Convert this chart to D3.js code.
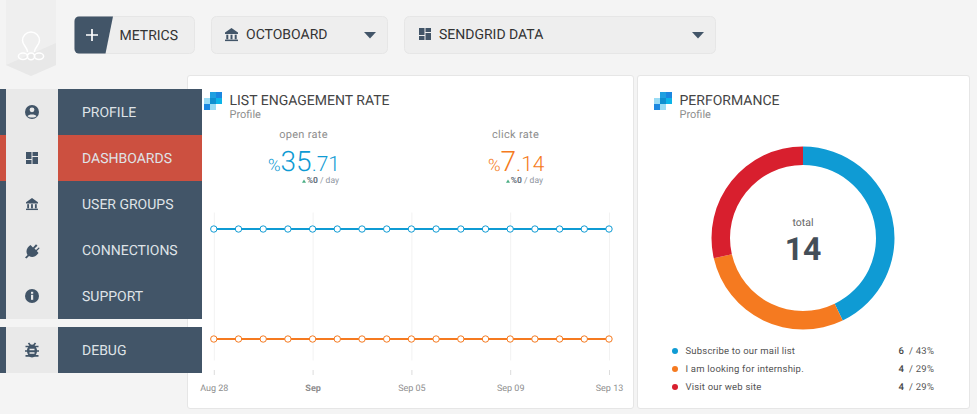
<!DOCTYPE html>
<html><head><meta charset="utf-8">
<script src="https://cdnjs.cloudflare.com/ajax/libs/d3/7.8.5/d3.min.js"></script>
<style>
html,body{margin:0;padding:0;background:#f4f4f4;overflow:hidden}
svg{display:block}
text{font-family:Roboto,sans-serif;text-rendering:geometricPrecision}
</style></head><body>
<svg id="c" width="977" height="414"></svg>
<script>
const dates = ["2023-08-28","2023-08-29","2023-08-30","2023-08-31","2023-09-01","2023-09-02","2023-09-03","2023-09-04","2023-09-05","2023-09-06","2023-09-07","2023-09-08","2023-09-09","2023-09-10","2023-09-11","2023-09-12","2023-09-13"];
const openRate = [35.71,35.71,35.71,35.71,35.71,35.71,35.71,35.71,35.71,35.71,35.71,35.71,35.71,35.71,35.71,35.71,35.71];
const clickRate = [7.14,7.14,7.14,7.14,7.14,7.14,7.14,7.14,7.14,7.14,7.14,7.14,7.14,7.14,7.14,7.14,7.14];
const tickDates = ["2023-08-28","2023-09-01","2023-09-05","2023-09-09","2023-09-13"];
const tickLabels = ["Aug 28","Sep","Sep 05","Sep 09","Sep 13"];
const legendLabels = ["Subscribe to our mail list","I am looking for internship.","Visit our web site"];
const legendValues = [6,4,4];
const legendPercents = ["43%","29%","29%"];
const menuLabels = ["PROFILE","DASHBOARDS","USER GROUPS","CONNECTIONS","SUPPORT"];

const BLUE="#0f9bd4",ORANGE="#f57a20",RED="#d81f2e",NAVY="#425568";
const svg=d3.select("#c");
const T=(g,x,y,s,size,fill,opt={})=>g.append("text").attr("x",x).attr("y",y).text(s)
  .attr("font-size",size).attr("fill",fill).attr("text-anchor",opt.a||"start")
  .attr("font-weight",opt.w||400).attr("letter-spacing",opt.ls||null);

/* logo */
const logo=svg.append("g");
logo.append("path").attr("d","M6 0H56V65L31 76L6 65Z").attr("fill","#efefef");
logo.append("path").attr("d","M6 65L56 43V65L31 76Z").attr("fill","#e8e8e8");
logo.append("g").attr("fill","none").attr("stroke","#fff").attr("stroke-width",1.5).call(g=>{
  g.append("path").attr("d","M27.5 52C27.5 47 22.5 45.5 22.5 40.5A8.5 8.5 0 0 1 39.5 40.5C39.5 45.5 34.5 47 34.5 52");
  g.append("ellipse").attr("cx",23).attr("cy",56.3).attr("rx",4.6).attr("ry",3.2);
  g.append("ellipse").attr("cx",39).attr("cy",56.3).attr("rx",4.6).attr("ry",3.2);
  g.append("ellipse").attr("cx",31).attr("cy",56.3).attr("rx",3.6).attr("ry",3.4);
});

/* top buttons */
const topBar=svg.append("g");
const btn=(x,y,w,h)=>topBar.append("rect").attr("x",x+.5).attr("y",y+.5).attr("width",w-1).attr("height",h-1).attr("rx",5).attr("fill","#eeeeee").attr("stroke","#e6e6e6");
btn(74,16,121,38);
topBar.append("path").attr("d","M79 16.5H113L105.5 53.5H79A4.5 4.5 0 0 1 74.5 49V21A4.5 4.5 0 0 1 79 16.5Z").attr("fill",NAVY);
topBar.append("path").attr("d","M92 29V41M86 35H98").attr("stroke","#fff").attr("stroke-width",1.7);
T(topBar,119.5,40,"METRICS",14,"#333");
btn(211,16,177,38);
const bank=(g,x,y,c,s=1)=>{const b=g.append("g").attr("transform",`translate(${x},${y}) scale(${s})`).attr("fill",c);
  b.append("path").attr("d","M0 4.5L6.5 0L13 4.5V6H0Z");
  b.append("rect").attr("x",1.3).attr("y",6.7).attr("width",2).attr("height",4.6);
  b.append("rect").attr("x",5.5).attr("y",6.7).attr("width",2).attr("height",4.6);
  b.append("rect").attr("x",9.7).attr("y",6.7).attr("width",2).attr("height",4.6);
  b.append("rect").attr("x",0).attr("y",11.6).attr("width",13).attr("height",1.5);};
bank(topBar,225,28,NAVY);
T(topBar,246,39.3,"OCTOBOARD",14,"#333");
topBar.append("path").attr("d","M364 32H376L370 38.5Z").attr("fill",NAVY);
btn(404,16,312,38);
const dash=(g,x,y,c)=>{const d=g.append("g").attr("transform",`translate(${x},${y})`).attr("fill",c);
  d.append("rect").attr("width",5.5).attr("height",7);d.append("rect").attr("y",8).attr("width",5.5).attr("height",4);
  d.append("rect").attr("x",6.5).attr("width",5.5).attr("height",4);d.append("rect").attr("x",6.5).attr("y",5).attr("width",5.5).attr("height",7);};
dash(topBar,419,28,NAVY);
T(topBar,439,39.3,"SENDGRID DATA",14,"#333");
topBar.append("path").attr("d","M692 32H704L698 38.5Z").attr("fill",NAVY);

/* cards */
const card=(x,y,w,h)=>svg.append("rect").attr("x",x+.5).attr("y",y+.5).attr("width",w).attr("height",h).attr("rx",2.5).attr("fill","#fff").attr("stroke","#e6e6e6");
card(187,75,446,333);
card(637,75,332,333);

/* sidebar */
const side=svg.append("g");
const rowY=d3.scaleBand().domain(menuLabels).range([89,319]);
menuLabels.forEach((m,i)=>{const y=rowY(m),c=i==1?"#cc5040":NAVY;
  side.append("rect").attr("x",0).attr("y",y).attr("width",6).attr("height",46).attr("fill",c);
  side.append("rect").attr("x",6).attr("y",y).attr("width",52).attr("height",46).attr("fill","#e9e9e9");
  side.append("rect").attr("x",58).attr("y",y).attr("width",144).attr("height",46).attr("fill",c);
  T(side,82,y+28,m,14,"#dfe3e7");
});
side.append("rect").attr("x",0).attr("y",327).attr("width",6).attr("height",46).attr("fill",NAVY);
side.append("rect").attr("x",6).attr("y",327).attr("width",52).attr("height",46).attr("fill","#e9e9e9");
side.append("rect").attr("x",58).attr("y",327).attr("width",144).attr("height",46).attr("fill",NAVY);
T(side,82,355,"DEBUG",14,"#dfe3e7");
/* sidebar icons */
side.append("circle").attr("cx",32).attr("cy",112).attr("r",7).attr("fill",NAVY);
side.append("circle").attr("cx",32).attr("cy",109.8).attr("r",2.4).attr("fill","#e9e9e9");
side.append("path").attr("d","M27.5 116.2C28.5 113.8 35.5 113.8 36.5 116.2C35 118 29 118 27.5 116.2Z").attr("fill","#e9e9e9");
dash(side,26,152,NAVY);
bank(side,26,198,NAVY,.92);
side.append("path").attr("d","M25 257.5L27.5 255C25 250.5 27.5 247 30.5 245L33 247.5L36 244.3L37.5 245.8L34.5 248.5L36 250L39 247.2L39.5 248.5L36.8 251L38.5 253C36 256.5 32.5 258 29 256L26.5 258.5Z").attr("fill",NAVY);
side.append("circle").attr("cx",32).attr("cy",296).attr("r",7).attr("fill",NAVY);
side.append("rect").attr("x",31).attr("y",294.8).attr("width",2.2).attr("height",5).attr("fill","#e9e9e9");
side.append("rect").attr("x",31).attr("y",291.8).attr("width",2.2).attr("height",2).attr("fill","#e9e9e9");
side.append("ellipse").attr("cx",32).attr("cy",351).attr("rx",5).attr("ry",6.5).attr("fill",NAVY);
side.append("path").attr("d","M25.5 346.5H38.5M25 351H39M25.5 355.8H38.5M28.5 343L30.5 345.5M35.5 343L33.5 345.5").attr("stroke",NAVY).attr("stroke-width",1.7);
side.append("path").attr("d","M29.5 349.5H34.5M29.5 353H34.5").attr("stroke","#e9e9e9").attr("stroke-width",1.4);

/* header logos */
const sq=(x,y)=>{const g=svg.append("g").attr("transform",`translate(${x},${y})`);
  [[6,0,"#1fa0e0"],[12,0,"#1b87e0"],[6,6,"#0f8fd0"],[12,6,"#0cb4e8"],[0,6,"#9adcf5"],[0,12,"#1b87e0"],[6,12,"#9adcf5"]]
  .forEach(d=>g.append("rect").attr("x",d[0]).attr("y",d[1]).attr("width",6).attr("height",6).attr("fill",d[2]));};
sq(204,92); sq(654,92);
T(svg,229.5,105,"LIST ENGAGEMENT RATE",14,"#444");
T(svg,229.5,118,"Profile",11,"#8e8e8e");
T(svg,679.5,105,"PERFORMANCE",14,"#444");
T(svg,679.5,118,"Profile",11,"#8e8e8e");

/* KPIs */
const kpi=(cx,label,x0,big,small,c,ax)=>{
  T(svg,cx,138,label,11,"#8e8e8e",{a:"middle",ls:.3});
  let cur=x0;
  [["%",17],[big,28],[small,21]].forEach(([s,fs])=>{
    const t=T(svg,cur,171,s,fs,c,{w:300});
    cur+=t.node().getComputedTextLength();
  });
  svg.append("path").attr("d",`M${ax} 182.7L${ax+2} 179.5L${ax+4} 182.7Z`).attr("fill","#4cae84");
  const s=svg.append("text").attr("x",ax+4.7).attr("y",183).attr("font-size",8.5).attr("fill","#8e96a0");
  s.append("tspan").attr("font-weight",700).attr("fill","#66717d").text("%0");
  s.append("tspan").text(" / day");
};
kpi(303.5,"open rate",268,"35",".71",BLUE,302);
kpi(515.5,"click rate",488,"7",".14",ORANGE,506);

/* line chart */
const parse=d3.utcParse("%Y-%m-%d");
const x=d3.scaleUtc().domain([parse(dates[0]),parse(dates[dates.length-1])]).range([213.8,609]);
const y=d3.scaleLinear().domain([0,40]).range([366.5,212.5]);
const ticks=tickDates.map(parse);
const ax=svg.append("g").attr("transform","translate(0,375)")
  .call(d3.axisBottom(x).tickValues(ticks).tickSize(6).tickPadding(5).tickFormat((d,i)=>tickLabels[i]));
ax.select(".domain").remove();
ax.selectAll("line").attr("y1",-5).attr("y2",0).attr("stroke","#dcdcdc");
ax.selectAll("text").attr("font-size",9).attr("fill","#8e8e8e").attr("font-family","Roboto,sans-serif")
  .attr("font-weight",(d,i)=>i==1?700:400).attr("y",10);
svg.append("g").selectAll("line").data(ticks).join("line")
  .attr("x1",d=>x(d)+.5).attr("x2",d=>x(d)+.5).attr("y1",y(40)).attr("y2",y(0)-6).attr("stroke","#f2f2f2");
[[openRate,BLUE],[clickRate,ORANGE]].forEach(([vals,c])=>{
  const pts=dates.map((d,i)=>[parse(d),vals[i]]);
  svg.append("path").datum(pts).attr("fill","none").attr("stroke",c).attr("stroke-width",2)
    .attr("d",d3.line().x(d=>x(d[0])).y(d=>y(d[1])));
  svg.append("g").selectAll("circle").data(pts).join("circle")
    .attr("cx",d=>x(d[0])).attr("cy",d=>y(d[1])).attr("r",3.2).attr("fill","#fff").attr("stroke",c).attr("stroke-width",1);
});

/* donut */
const pie=d3.pie().sort(null).value(d=>d)(legendValues);
const arc=d3.arc().innerRadius(73).outerRadius(91.5);
const colors=[BLUE,ORANGE,RED];
const dg=svg.append("g").attr("transform","translate(803,238)");
dg.selectAll("path").data(pie).join("path").attr("d",arc).attr("fill",(d,i)=>colors[i]);
T(dg,0,-12,"total",10.5,"#666",{a:"middle"});
T(dg,0,22,d3.sum(legendValues),32,"#444e58",{a:"middle",w:700});

/* legend */
const ly=d3.scalePoint().domain(legendLabels).range([351,387]);
legendLabels.forEach((l,i)=>{const yy=ly(l);
  svg.append("circle").attr("cx",675).attr("cy",yy).attr("r",3).attr("fill",colors[i]);
  T(svg,685.5,yy+3,l,9.5,"#555",{ls:.2});
  T(svg,898.5,yy+3,legendValues[i],9.5,"#444",{w:500});
  T(svg,909,yy+3,"/ "+legendPercents[i],9.5,"#555",{ls:.25});
});
</script>
</body></html>
